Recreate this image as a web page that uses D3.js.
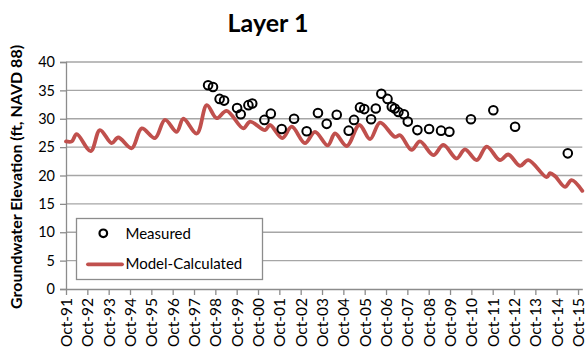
<!DOCTYPE html>
<html>
<head>
<meta charset="utf-8">
<script src="https://cdn.jsdelivr.net/npm/d3@7"></script>
<style>
  body { margin: 0; background: #fff; }
  svg { display: block; font-family: Lato, "Open Sans", sans-serif; }
</style>
</head>
<body>
<svg id="chart" width="586" height="353"></svg>
<script>
// measured heads, decimal years
const measuredDates = [
    1998.41, 1998.64, 1998.95, 1999.16, 1999.77, 1999.94, 2000.30, 2000.48,
    2001.05, 2001.35, 2001.86, 2002.44, 2003.03, 2003.56, 2003.97, 2004.44,
    2005.00, 2005.25, 2005.53, 2005.73, 2006.05, 2006.27, 2006.53, 2006.82,
    2007.02, 2007.16, 2007.33, 2007.59, 2007.77, 2008.22, 2008.77, 2009.33,
    2009.72, 2010.73, 2011.78, 2012.80, 2015.27
]
const measuredValues = [
    35.9, 35.6, 33.5, 33.2, 31.9, 30.8, 32.4, 32.7,
    29.8, 30.9, 28.2, 30.0, 27.8, 31.0, 29.1, 30.7,
    27.9, 29.8, 32.0, 31.7, 29.9, 31.8, 34.4, 33.5,
    32.1, 31.8, 31.2, 30.8, 29.5, 28.0, 28.2, 27.9,
    27.7, 29.9, 31.5, 28.6, 23.9
]

// model-calculated heads
const modelDates = [
    1991.75, 1992.02, 1992.25, 1992.91, 1993.34, 1993.89, 1994.20, 1994.83,
    1995.30, 1995.92, 1996.39, 1996.94, 1997.25, 1997.88, 1998.35, 1998.81,
    1999.28, 2000.06, 2000.38, 2001.08, 2001.31, 2001.89, 2002.33, 2002.95,
    2003.42, 2004.02, 2004.36, 2004.91, 2005.50, 2006.00, 2006.47, 2007.17,
    2007.41, 2007.95, 2008.34, 2008.97, 2009.44, 2010.06, 2010.45, 2011.00,
    2011.47, 2012.09, 2012.48, 2013.03, 2013.42, 2014.28, 2014.44, 2014.67,
    2015.14, 2015.45, 2015.95
]
const modelValues = [
    26.0, 26.0, 27.3, 24.3, 28.0, 25.7, 26.7, 24.8,
    28.3, 26.6, 29.8, 27.7, 30.0, 27.4, 32.4, 30.1,
    31.4, 28.3, 29.5, 28.0, 28.9, 26.6, 28.6, 25.7,
    27.7, 25.3, 27.4, 25.2, 28.9, 26.4, 29.3, 26.8,
    27.1, 24.5, 26.0, 23.6, 25.4, 23.0, 24.6, 22.7,
    25.1, 22.7, 23.7, 21.7, 22.7, 19.7, 20.4, 19.9,
    18.0, 19.2, 17.3
]

const yTicks = [0, 5, 10, 15, 20, 25, 30, 35, 40]
const xTickDates = d3.range(1991.75, 2016, 1)
const xTickLabels = [
    'Oct-91', 'Oct-92', 'Oct-93', 'Oct-94', 'Oct-95', 'Oct-96', 'Oct-97', 'Oct-98',
    'Oct-99', 'Oct-00', 'Oct-01', 'Oct-02', 'Oct-03', 'Oct-04', 'Oct-05', 'Oct-06',
    'Oct-07', 'Oct-08', 'Oct-09', 'Oct-10', 'Oct-11', 'Oct-12', 'Oct-13', 'Oct-14',
    'Oct-15'
]

const colours = {
    model: '#c0504d',
    grid: '#a6a6a6',
    axis: '#8c8c8c',
    text: '#000'
}

const svg = d3.select('#chart')

const plot = { left: 66, right: 582.3, top: 62, bottom: 289 }

const x = d3.scaleLinear().domain([1991.75, 2015.95]).range([plot.left, plot.right])
const y = d3.scaleLinear().domain([0, 40]).range([plot.bottom, plot.top])

// gridlines
svg.append('g')
    .selectAll('line')
    .data(yTicks.filter(d => d > 0))
    .join('line')
    .attr('x1', plot.left)
    .attr('x2', plot.right)
    .attr('y1', d => y(d))
    .attr('y2', d => y(d))
    .attr('stroke', colours.grid)
    .attr('stroke-width', 1.3)

// y axis
const yAxis = svg.append('g')
    .attr('transform', `translate(${plot.left},0)`)
    .call(d3.axisLeft(y).tickValues(yTicks).tickSize(6).tickPadding(5))
yAxis.select('.domain').attr('stroke', colours.axis).attr('stroke-width', 1.3)
yAxis.selectAll('.tick line').attr('stroke', colours.axis).attr('stroke-width', 1.3)
yAxis.selectAll('.tick text')
    .attr('font-family', 'Lato')
    .attr('font-size', 14.5)
    .attr('fill', colours.text)

// x axis
const xAxis = svg.append('g')
    .attr('transform', `translate(0,${plot.bottom})`)
    .call(d3.axisBottom(x)
        .tickValues(xTickDates)
        .tickFormat((d, i) => xTickLabels[i])
        .tickSize(6)
        .tickSizeOuter(0))
xAxis.select('.domain').attr('stroke', colours.axis).attr('stroke-width', 1.3)
xAxis.selectAll('.tick line').attr('stroke', colours.axis).attr('stroke-width', 1.3)
xAxis.selectAll('.tick text')
    .attr('font-family', 'Lato')
    .attr('font-size', 15.5)
    .attr('fill', colours.text)
    .attr('transform', 'rotate(-90)')
    .attr('text-anchor', 'end')
    .attr('x', -9)
    .attr('y', 0)
    .attr('dy', '0.35em')

// model line, smoothed like the spreadsheet original
const line = d3.line()
    .x((d, i) => x(modelDates[i]))
    .y(d => y(d))
    .curve(d3.curveCatmullRom.alpha(0.5))

svg.append('path')
    .datum(modelValues)
    .attr('d', line)
    .attr('fill', 'none')
    .attr('stroke', colours.model)
    .attr('stroke-width', 3.8)
    .attr('stroke-linejoin', 'round')
    .attr('stroke-linecap', 'round')

// measured points
svg.append('g')
    .selectAll('circle')
    .data(measuredValues)
    .join('circle')
    .attr('cx', (d, i) => x(measuredDates[i]))
    .attr('cy', d => y(d))
    .attr('r', 4.3)
    .attr('fill', 'none')
    .attr('stroke', '#000')
    .attr('stroke-width', 2)

// legend
const legend = svg.append('g')
legend.append('rect')
    .attr('x', 76.5)
    .attr('y', 218.5)
    .attr('width', 186)
    .attr('height', 61)
    .attr('fill', '#fff')
    .attr('stroke', colours.axis)
    .attr('stroke-width', 1.3)

legend.append('circle')
    .attr('cx', 103.3)
    .attr('cy', 233.3)
    .attr('r', 3.8)
    .attr('fill', 'none')
    .attr('stroke', '#000')
    .attr('stroke-width', 2.2)

legend.append('line')
    .attr('x1', 88)
    .attr('x2', 122)
    .attr('y1', 264.3)
    .attr('y2', 264.3)
    .attr('stroke', colours.model)
    .attr('stroke-width', 3.8)
    .attr('stroke-linecap', 'round')

legend.selectAll('text')
    .data(['Measured', 'Model-Calculated'])
    .join('text')
    .attr('x', 125.5)
    .attr('y', (d, i) => i === 0 ? 233.3 : 263.5)
    .attr('dy', '0.35em')
    .attr('font-size', 15)
    .attr('fill', colours.text)
    .text(d => d)

// titles
svg.append('text')
    .attr('x', 268)
    .attr('y', 32)
    .attr('text-anchor', 'middle')
    .attr('font-size', 25)
    .attr('font-weight', 'bold')
    .attr('fill', colours.text)
    .text('Layer 1')

svg.append('text')
    .attr('transform', `translate(${[22, 177]}) rotate(-90)`)
    .attr('text-anchor', 'middle')
    .attr('font-size', 16)
    .attr('font-weight', 'bold')
    .attr('fill', colours.text)
    .text('Groundwater Elevation (ft, NAVD 88)')
</script>
</body>
</html>
